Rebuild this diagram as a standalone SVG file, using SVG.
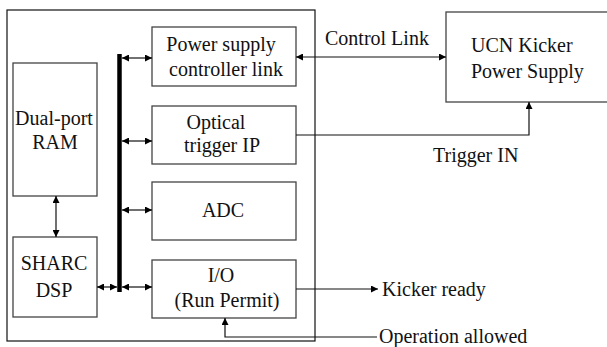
<svg xmlns="http://www.w3.org/2000/svg" width="607" height="347" viewBox="0 0 607 347">
<defs>
<marker id="ah" viewBox="0 0 10 10" refX="10" refY="5" markerWidth="9" markerHeight="7" markerUnits="userSpaceOnUse" orient="auto-start-reverse">
<path d="M0,0 L10,5 L0,10 z" fill="#000"/>
</marker>
<style>
.box{fill:#fff;stroke:#444;stroke-width:1.3}
.outer{fill:none;stroke:#111;stroke-width:1.2}
text{font-family:'Liberation Serif','DejaVu Serif',serif;font-size:20px;fill:#111}
.c{text-anchor:middle}
.ln{fill:none;stroke:#111;stroke-width:1.2}
.bi{marker-start:url(#ah);marker-end:url(#ah)}
.uni{marker-end:url(#ah)}
</style>
</defs>
<rect width="607" height="347" fill="#fff"/>
<rect id="outer" class="outer" x="7" y="10" width="308" height="331"/>
<g id="psc"><rect class="box" x="152" y="27" width="144" height="59"/><text class="c" x="221" y="51">Power supply</text><text class="c" x="226" y="76">controller link</text></g>
<g id="optical"><rect class="box" x="152" y="106" width="144" height="58"/><text class="c" x="216" y="129">Optical</text><text class="c" x="222" y="152">trigger IP</text></g>
<g id="adc"><rect class="box" x="152" y="182" width="144" height="58"/><text class="c" x="223" y="217">ADC</text></g>
<g id="io"><rect class="box" x="152" y="260" width="144" height="58"/><text class="c" x="221" y="282">I/O</text><text class="c" x="227" y="307">(Run Permit)</text></g>
<g id="ram"><rect class="box" x="13" y="63" width="84" height="133"/><text class="c" x="54" y="125">Dual-port</text><text class="c" x="55" y="149">RAM</text></g>
<g id="sharc"><rect class="box" x="13" y="237" width="84" height="80"/><text class="c" x="54" y="270">SHARC</text><text class="c" x="54" y="297">DSP</text></g>
<g id="ucn"><rect class="box" x="446" y="12" width="170" height="90"/><text x="471" y="52">UCN Kicker</text><text x="471" y="78">Power Supply</text></g>
<g id="connectors">
<line x1="119.5" y1="54" x2="119.5" y2="292" stroke="#000" stroke-width="4.5"/>
<line class="ln bi" x1="122" y1="58" x2="152" y2="58"/>
<line class="ln bi" x1="122" y1="141" x2="152" y2="141"/>
<line class="ln bi" x1="122" y1="210" x2="152" y2="210"/>
<line class="ln bi" x1="122" y1="287" x2="152" y2="287"/>
<line class="ln bi" x1="97" y1="287" x2="117" y2="287"/>
<line class="ln bi" x1="56" y1="196" x2="56" y2="237"/>
<line class="ln bi" x1="296" y1="57" x2="446" y2="57"/>
<polyline class="ln uni" points="296,135 529,135 529,102"/>
<line class="ln uni" x1="296" y1="289" x2="378" y2="289"/>
<polyline class="ln uni" points="377,337 225,337 225,318"/>
<text x="325" y="45">Control Link</text>
<text x="433" y="162">Trigger IN</text>
<text x="382" y="296">Kicker ready</text>
<text x="379" y="343">Operation allowed</text>
</g>
</svg>
